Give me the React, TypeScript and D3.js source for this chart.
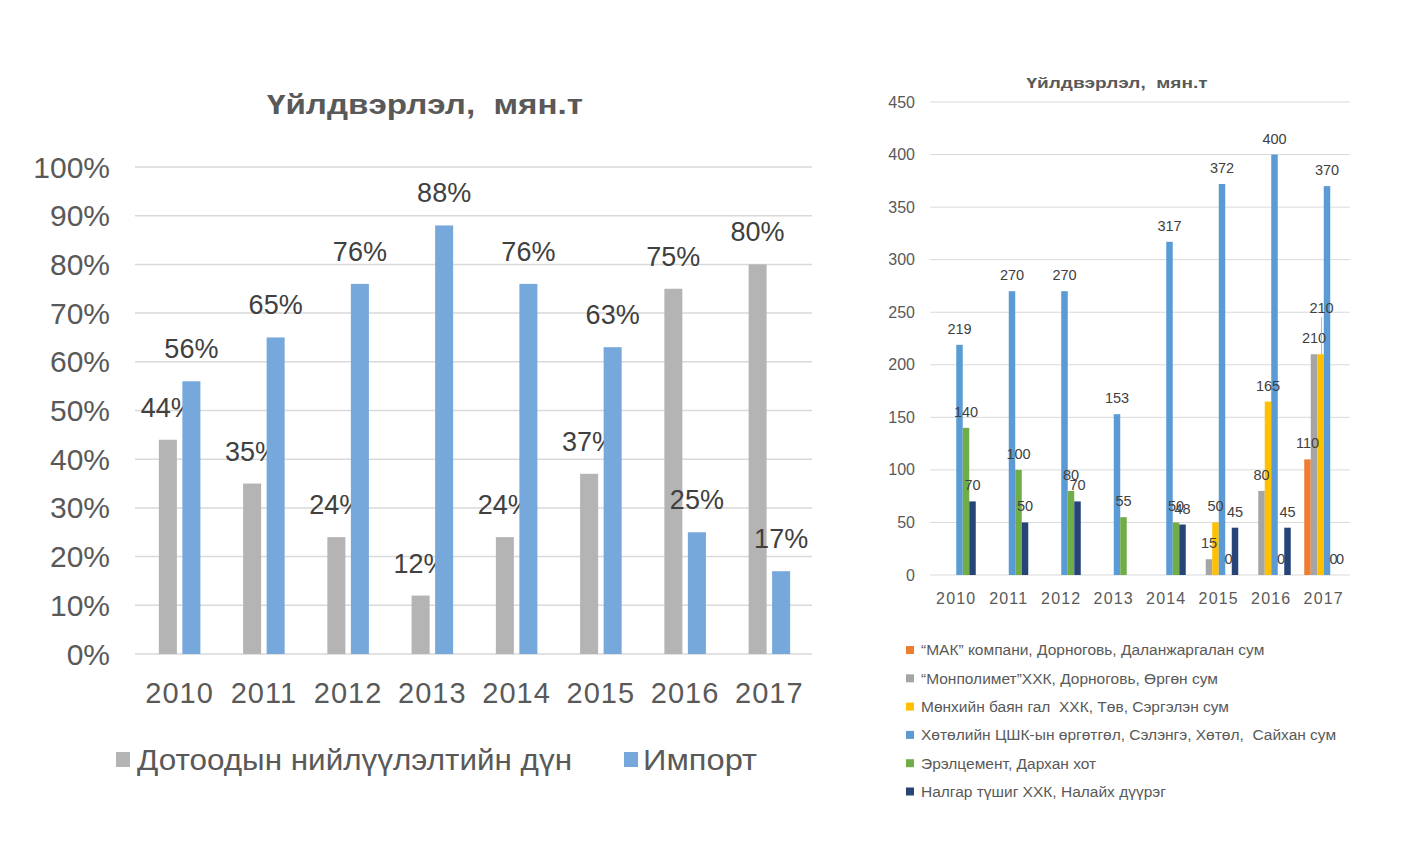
import * as React from 'react';
import * as d3 from "d3";

// categories shared by both charts
const years = ["2010", "2011", "2012", "2013", "2014", "2015", "2016", "2017"];

// left chart: share of supply, %
const domesticShare = [44, 35, 24, 12, 24, 37, 75, 80];
const importShare = [56, 65, 76, 88, 76, 63, 25, 17];
const leftNames = ["Дотоодын нийлүүлэлтийн дүн", "Импорт"];
const leftTicks = [0, 10, 20, 30, 40, 50, 60, 70, 80, 90, 100];

// right chart: production by plant, thousand tonnes
const makValues: (number | null)[] = [null, null, null, null, null, null, null, 110];
const monpolimetValues: (number | null)[] = [null, null, null, null, null, 15, 80, 210];
const monkhValues: (number | null)[] = [null, null, null, null, null, 50, 165, 210];
const khutulValues: (number | null)[] = [219, 270, 270, 153, 317, 372, 400, 370];
const erelValues: (number | null)[] = [140, 100, 80, 55, 50, 0, 0, 0];
const nalgarValues: (number | null)[] = [70, 50, 70, null, 48, 45, 45, 0];
const rightNames = [
    "“МАК” компани, Дорноговь, Даланжаргалан сум",
    "“Монполимет”ХХК, Дорноговь, Өргөн сум",
    "Мөнхийн баян гал  ХХК, Төв, Сэргэлэн сум",
    "Хөтөлийн ЦШК-ын өргөтгөл, Сэлэнгэ, Хөтөл,  Сайхан сум",
    "Эрэлцемент, Дархан хот",
    "Налгар түшиг ХХК, Налайх дүүрэг",
];
const rightTicks = [0, 50, 100, 150, 200, 250, 300, 350, 400, 450];

const title = "Үйлдвэрлэл,  мян.т";
const font = "'Liberation Sans', Arial, sans-serif";
const textColor = "#595959";
const gridColor = "#d9d9d9";

interface Serie {
    name: string;
    color: string;
    values: (number | null)[];
}

const leftSeries: Serie[] = [
    { name: leftNames[0], color: "#b4b4b4", values: domesticShare },
    { name: leftNames[1], color: "#76a8dc", values: importShare },
];

const rightSeries: Serie[] = [
    { name: rightNames[0], color: "#ed7d31", values: makValues },
    { name: rightNames[1], color: "#a5a5a5", values: monpolimetValues },
    { name: rightNames[2], color: "#ffc000", values: monkhValues },
    { name: rightNames[3], color: "#5b9bd5", values: khutulValues },
    { name: rightNames[4], color: "#70ad47", values: erelValues },
    { name: rightNames[5], color: "#264478", values: nalgarValues },
];

function ShareChart() {
    const x0 = d3.scaleBand().domain(years).range([137.5, 811.5]).paddingInner(0.507).paddingOuter(0.2535);
    const x1 = d3.scaleBand<number>().domain([0, 1]).range([0, x0.bandwidth()]).paddingInner(0.234);
    const y = d3.scaleLinear().domain([0, 100]).range([654, 167]);

    return (
        <g fontFamily={font} fill={textColor}>
            <text x={425} y={114} textAnchor="middle" fontSize={28} fontWeight="bold" textLength={316} lengthAdjust="spacingAndGlyphs" style={{ whiteSpace: "pre" }}>{title}</text>
            {leftTicks.map(t => (
                <g key={t}>
                    <line x1={135} x2={812} y1={y(t)} y2={y(t)} stroke={gridColor} strokeWidth={1.5} />
                    <text x={110} y={y(t)} dy="0.35em" textAnchor="end" fontSize={30}>{t + "%"}</text>
                </g>
            ))}
            {years.map(yr => (
                <text key={yr} x={x0(yr)! + x0.bandwidth() / 2} y={693} dy="0.35em" textAnchor="middle" fontSize={29} letterSpacing={1}>{yr}</text>
            ))}
            {leftSeries.map((s, si) => (
                <g key={s.name}>
                    {s.values.map((v, i) => v == null ? null : (
                        <rect key={i} x={x0(years[i])! + x1(si)!} width={x1.bandwidth()} y={y(v)} height={y(0) - y(v)} fill={s.color} />
                    ))}
                    {s.values.map((v, i) => v == null ? null : (
                        <text key={"l" + i} x={x0(years[i])! + x1(si)! + x1.bandwidth() / 2} y={y(v) - 23} textAnchor="middle" fontSize={27} fill="#404040">{v + "%"}</text>
                    ))}
                </g>
            ))}
            <rect x={116} y={752} width={14} height={15} fill={leftSeries[0].color} />
            <text x={137} y={760} dy="0.35em" fontSize={29} textLength={435} lengthAdjust="spacingAndGlyphs">{leftSeries[0].name}</text>
            <rect x={624} y={752} width={14} height={15} fill={leftSeries[1].color} />
            <text x={643} y={760} dy="0.35em" fontSize={29} textLength={114} lengthAdjust="spacingAndGlyphs">{leftSeries[1].name}</text>
        </g>
    );
}

function PlantChart() {
    const x0 = d3.scaleBand().domain(years).range([930, 1350]).paddingInner(0.257).paddingOuter(0.1285);
    const x1 = d3.scaleBand<number>().domain(d3.range(rightSeries.length)).range([0, x0.bandwidth()]);
    const y = d3.scaleLinear().domain([0, 450]).range([575, 102]);
    const barX = (si: number, i: number) => x0(years[i])! + x1(si)!;

    // the yellow 2017 label was dragged up in the original, with a leader line
    const moved = { serie: 2, index: 7, dy: -30 };

    return (
        <g fontFamily={font} fill={textColor}>
            <text x={1117} y={88} textAnchor="middle" fontSize={15} fontWeight="bold" textLength={181} lengthAdjust="spacingAndGlyphs" style={{ whiteSpace: "pre" }}>{title}</text>
            {rightTicks.map(t => (
                <g key={t}>
                    <line x1={930} x2={1350} y1={y(t)} y2={y(t)} stroke={gridColor} strokeWidth={1} />
                    <text x={915} y={y(t)} dy="0.35em" textAnchor="end" fontSize={16}>{t}</text>
                </g>
            ))}
            {years.map(yr => (
                <text key={yr} x={x0(yr)! + x0.bandwidth() / 2} y={598} dy="0.35em" textAnchor="middle" fontSize={16} letterSpacing={1.2}>{yr}</text>
            ))}
            {rightSeries.map((s, si) => (
                <g key={s.name}>
                    {s.values.map((v, i) => v == null ? null : (
                        <rect key={i} x={barX(si, i)} width={x1.bandwidth()} y={y(v)} height={y(0) - y(v)} fill={s.color} />
                    ))}
                </g>
            ))}
            {rightSeries.map((s, si) => (
                <g key={"l" + s.name}>
                    {s.values.map((v, i) => {
                        if (v == null) return null;
                        const cx = barX(si, i) + x1.bandwidth() / 2;
                        const isMoved = si === moved.serie && i === moved.index;
                        const ly = y(v) - 11 + (isMoved ? moved.dy : 0);
                        return (
                            <g key={i}>
                                {isMoved && <line x1={cx + 1} x2={cx + 1} y1={ly + 4} y2={y(v)} stroke="#a6a6a6" strokeWidth={0.8} />}
                                <text x={cx + (isMoved ? 1 : 0)} y={ly} textAnchor="middle" fontSize={14.5} fill="#404040">{v}</text>
                            </g>
                        );
                    })}
                </g>
            ))}
            {rightSeries.map((s, si) => (
                <g key={"k" + s.name}>
                    <rect x={906} y={646 + si * 28.3} width={8} height={8} fill={s.color} />
                    <text x={921} y={650 + si * 28.3} dy="0.35em" fontSize={15.5} style={{ whiteSpace: "pre" }}>{s.name}</text>
                </g>
            ))}
        </g>
    );
}

export default function App() {
    return (
        <div style={{ position: "absolute", left: 0, top: 0 }}>
            <svg width={1423} height={868} style={{ display: "block", background: "#fff" }}>
                <ShareChart />
                <PlantChart />
            </svg>
        </div>
    );
}
